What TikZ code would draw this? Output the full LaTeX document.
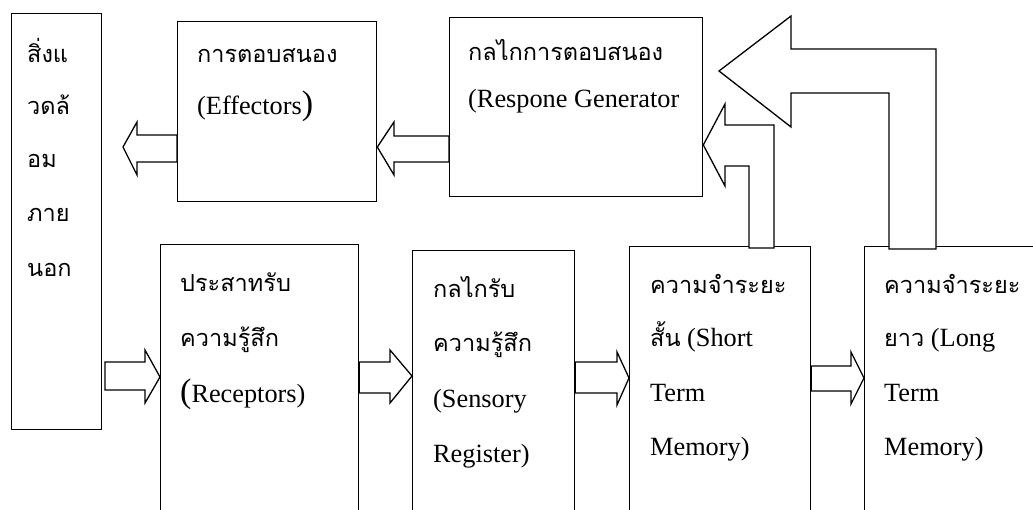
\documentclass[tikz,border=0pt]{standalone}
\usepackage{fontspec}
\setmainfont{Liberation Serif}
\newfontfamily\thaifont[Script=Thai]{Loma}
\newcommand\thtxt[1]{{\thaifont\fontsize{23.5}{23.5}\selectfont #1}}
\newcommand\bigpar[1]{{\fontsize{34}{34}\selectfont #1}}
\begin{document}
\begin{tikzpicture}[x=1pt,y=-1pt]
\tikzset{
  box/.style={draw, line width=1.3pt, inner sep=0pt, anchor=north west},
  blk/.style={draw, line width=1.3pt, fill=white, line join=miter},
  lbl/.style={anchor=base west, inner sep=0pt, font=\fontsize{26.3}{26.3}\selectfont}
}
\useasboundingbox (0,0) rectangle (1033,510);
\clip (0,0) rectangle (1033,510);
% boxes
\node[box, minimum width=90pt,  minimum height=416pt] (env) at (11,13) {};
\node[box, minimum width=199pt, minimum height=180pt] (eff) at (177,21) {};
\node[box, minimum width=253pt, minimum height=179pt] (resp) at (449,17) {};
\node[box, minimum width=198pt, minimum height=290pt] (rec) at (160,244) {};
\node[box, minimum width=162pt, minimum height=290pt] (sen) at (412,250) {};
\node[box, minimum width=181pt, minimum height=290pt] (stm) at (629,246) {};
\node[box, minimum width=200pt, minimum height=290pt] (ltm) at (864,246) {};
% texts
\node[lbl] (env1) at (27,63)  {\thtxt{สิ่งแ}};
\node[lbl] (env2) at (27,115) {\thtxt{วดล้}};
\node[lbl] (env3) at (27,168) {\thtxt{อม}};
\node[lbl] (env4) at (27,222) {\thtxt{ภาย}};
\node[lbl] (env5) at (27,277) {\thtxt{นอก}};
\node[lbl] (eff1) at (197,63)  {\thtxt{การตอบสนอง}};
\node[lbl] (eff2) at (197,115) {(Effectors\bigpar{)}};
\node[lbl] (resp1) at (468,61)  {\thtxt{กลไกการตอบสนอง}};
\node[lbl] (resp2) at (468,108) {(Respone Generator};
\node[lbl] (rec1) at (180,292) {\thtxt{ประสาทรับ}};
\node[lbl] (rec2) at (180,347) {\thtxt{ความรู้สึก}};
\node[lbl] (rec3) at (180,402) {\bigpar{(}Receptors)};
\node[lbl] (sen1) at (433,298) {\thtxt{กลไกรับ}};
\node[lbl] (sen2) at (433,352) {\thtxt{ความรู้สึก}};
\node[lbl] (sen3) at (433,407) {(Sensory};
\node[lbl] (sen4) at (433,462) {Register)};
\node[lbl] (stm1) at (650,294) {\thtxt{ความจำระยะ}};
\node[lbl] (stm2) at (650,347) {\thtxt{สั้น} (Short};
\node[lbl] (stm3) at (650,401) {Term};
\node[lbl] (stm4) at (650,455) {Memory)};
\node[lbl] (ltm1) at (884,294) {\thtxt{ความจำระยะ}};
\node[lbl] (ltm2) at (884,347) {\thtxt{ยาว} (Long};
\node[lbl] (ltm3) at (884,401) {Term};
\node[lbl] (ltm4) at (884,455) {Memory)};
% block arrows
\draw[blk] (eff.west |- 0,135) -- (137,135) -- (137,122) -- (123,147) -- (137,175) -- (137,162) -- (eff.west |- 0,162) -- cycle;
\draw[blk] (resp.west |- 0,136) -- (394,136) -- (394,122) -- (eff.east |- 0,147) -- (394,175) -- (394,162) -- (resp.west |- 0,162) -- cycle;
\draw[blk] (105,362) -- (145,362) -- (145,350) -- (rec.west |- 0,377) -- (145,403) -- (145,390) -- (105,390) -- cycle;
\draw[blk] (rec.east |- 0,362) -- (390,362) -- (390,350) -- (sen.west |- 0,376) -- (390,403) -- (390,393) -- (rec.east |- 0,393) -- cycle;
\draw[blk] (sen.east |- 0,362) -- (617,362) -- (617,352) -- (stm.west |- 0,378) -- (617,405) -- (617,393) -- (sen.east |- 0,393) -- cycle;
\draw[blk] (stm.east |- 0,366) -- (851,366) -- (851,352) -- (ltm.west |- 0,378) -- (851,404) -- (851,391) -- (stm.east |- 0,391) -- cycle;
\draw[blk] (749,248) -- (749,166) -- (725,166) -- (725,186) -- (resp.east |- 0,145) -- (725,104) -- (725,125) -- (774,125) -- (774,248) -- cycle;
\draw[blk] (889,249) -- (889,93) -- (791,93) -- (791,127) -- (719,71) -- (791,16) -- (791,49) -- (936,49) -- (936,249) -- cycle;
\end{tikzpicture}
\end{document}
